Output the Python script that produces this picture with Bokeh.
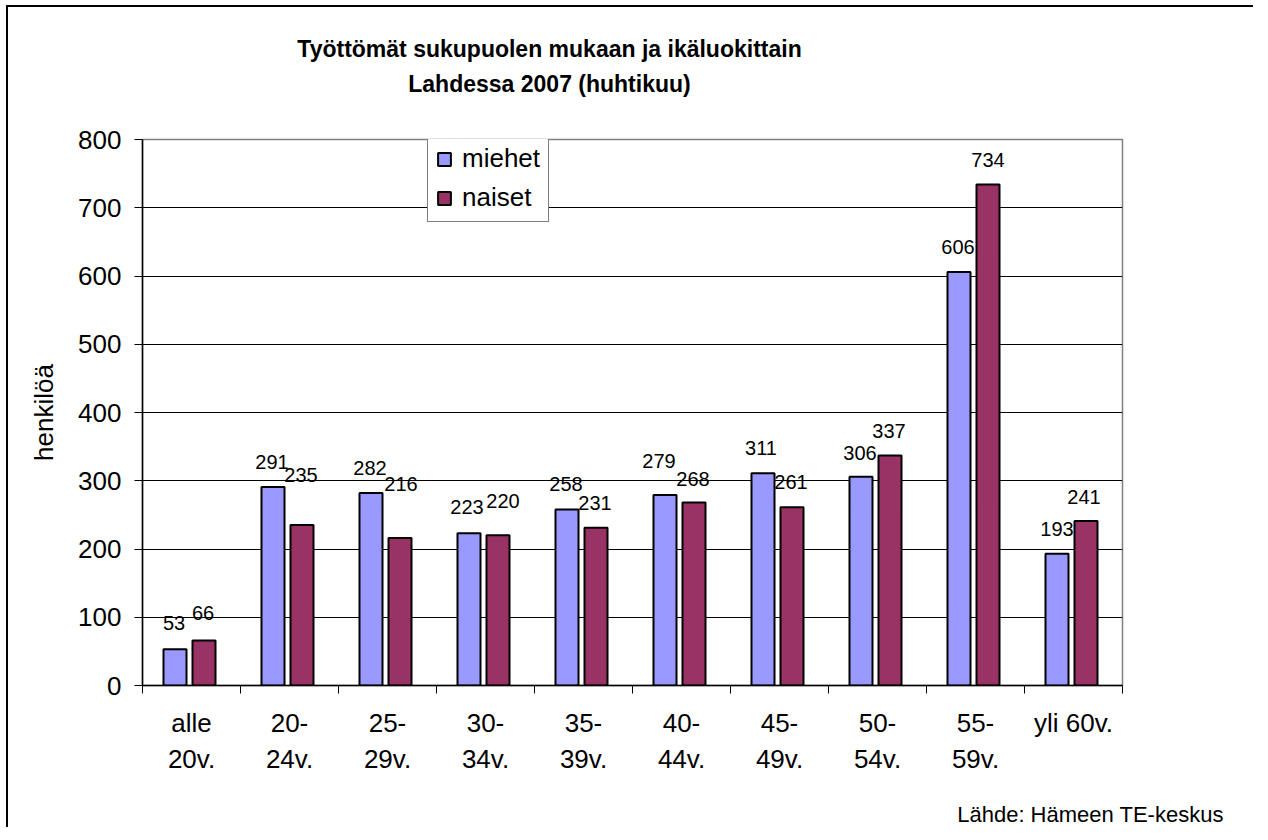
from bokeh.plotting import figure
from bokeh.models import (ColumnDataSource, Range1d, LabelSet, Legend, LegendItem,
                          FixedTicker, CustomJSTickFormatter, LinearAxis)
from bokeh.core.properties import value
from bokeh.embed import file_html
from bokeh.resources import INLINE

# ---------------- data ----------------
categories = ["alle\n20v.", "20-\n24v.", "25-\n29v.", "30-\n34v.", "35-\n39v.",
              "40-\n44v.", "45-\n49v.", "50-\n54v.", "55-\n59v.", "yli 60v."]
miehet = [53, 291, 282, 223, 258, 279, 311, 306, 606, 193]
naiset = [66, 235, 216, 220, 231, 268, 261, 337, 734, 241]
y_ticks = [0, 100, 200, 300, 400, 500, 600, 700, 800]
series_names = ["miehet", "naiset"]
title_lines = ["Työttömät sukupuolen mukaan ja ikäluokittain", "Lahdessa 2007 (huhtikuu)"]
y_label = "henkilöä"
source_text = "Lähde: Hämeen TE-keskus"

# ---------------- style ----------------
FONT = "Liberation Sans"
C_MIEHET = "#9999FF"
C_NAISET = "#993366"
# value-label placement (screen px above bar top / horizontal nudge)
miehet_label_dy = [26, 25, 25, 26, 25, 34, 25, 24, 25, 25]
naiset_label_dy = [27, 50, 54, 34, 25, 24, 25, 24, 25, 24]
miehet_label_dx = [-1, -1, -1, -2, -1, -6, -2, -1, -1, 0]
naiset_label_dx = [-1, -1, 1, 5, -1, -1, -1, -1, 0, -2]

n = len(categories)
PX_X = 98.0          # px per category
bar_w = 23.0 / PX_X
off_m = -16.5 / PX_X
off_n = 12.5 / PX_X
TITLE_X = (549 - 142) / PX_X     # horizontal centre of the title (data units)
SOURCE_X = (1090 - 142) / PX_X   # horizontal centre of the source note

p = figure(width=1250, height=825,
           x_range=Range1d(0, n), y_range=Range1d(0, 800),
           output_backend="svg", toolbar_location=None,
           min_border_left=134, min_border_right=136,
           min_border_top=132, min_border_bottom=147)
p.styles = {"border-left": "2px solid #000000", "border-top": "2px solid #000000",
            "margin-left": "6px", "margin-top": "5px",
            "clip-path": "inset(0px 3px 3px 0px)"}
p.background_fill_color = "white"
p.border_fill_color = "white"
p.outline_line_color = "#808080"
p.outline_line_width = 1.5

p.xgrid.visible = False
p.ygrid.ticker = y_ticks
p.ygrid.grid_line_color = "#000000"
p.ygrid.grid_line_width = 1

p.yaxis.ticker = y_ticks
p.yaxis.major_tick_out = 8
p.yaxis.major_tick_in = 0
p.yaxis.minor_tick_line_color = None
p.yaxis.axis_line_color = "#000000"
p.yaxis.axis_line_width = 1.5
p.yaxis.major_tick_line_color = "#000000"
p.yaxis.major_label_text_font = FONT
p.yaxis.major_label_text_font_size = "26px"
p.yaxis.major_label_text_color = "#000000"
p.yaxis.major_label_standoff = 13
p.yaxis.axis_label = y_label
p.yaxis.axis_label_text_font = FONT
p.yaxis.axis_label_text_font_size = "26px"
p.yaxis.axis_label_text_font_style = "normal"
p.yaxis.axis_label_text_color = "#000000"
p.yaxis.axis_label_standoff = 16

# x axis: labels at category centres, tick marks at category boundaries
p.xaxis.ticker = FixedTicker(ticks=[i + 0.5 for i in range(n)],
                             minor_ticks=list(range(n + 1)))
p.xaxis.formatter = CustomJSTickFormatter(args=dict(labels=categories),
                                          code="return labels[Math.floor(tick)] || ''")
p.xaxis.major_tick_line_color = None
p.xaxis.major_tick_out = 0
p.xaxis.major_tick_in = 0
p.xaxis.minor_tick_line_color = "#000000"
p.xaxis.minor_tick_out = 8
p.xaxis.minor_tick_in = 0
p.xaxis.axis_line_color = "#000000"
p.xaxis.axis_line_width = 1.5
p.xaxis.major_label_text_font = FONT
p.xaxis.major_label_text_font_size = "26px"
p.xaxis.major_label_text_color = "#000000"
p.xaxis.major_label_standoff = 14
p.xaxis.major_label_text_line_height = 1.22

idx = list(range(n))
src = ColumnDataSource(dict(
    xm=[i + 0.5 + off_m for i in idx],
    xn=[i + 0.5 + off_n for i in idx],
    miehet=miehet, naiset=naiset,
    tm=[str(v) for v in miehet], tn=[str(v) for v in naiset],
    dym=miehet_label_dy, dyn=naiset_label_dy,
    dxm=miehet_label_dx, dxn=naiset_label_dx,
))

r_m = p.vbar(x="xm", top="miehet", bottom=0, width=bar_w, source=src,
             fill_color=C_MIEHET, line_color="#000000", line_width=2)
r_n = p.vbar(x="xn", top="naiset", bottom=0, width=bar_w, source=src,
             fill_color=C_NAISET, line_color="#000000", line_width=2)

for xcol, ycol, tcol, dx, dy in (("xm", "miehet", "tm", "dxm", "dym"),
                                 ("xn", "naiset", "tn", "dxn", "dyn")):
    p.add_layout(LabelSet(x=xcol, y=ycol, text=tcol, x_offset=dx, y_offset=dy,
                          source=src, text_align="center", text_baseline="middle",
                          text_font=value(FONT), text_font_size=value("20px"),
                          text_color="#000000"))

# legend
legend = Legend(items=[LegendItem(label=series_names[0], renderers=[r_m]),
                       LegendItem(label=series_names[1], renderers=[r_n])],
                location=(285, 463), orientation="vertical",
                border_line_color="#000000", border_line_width=1,
                background_fill_color="white", background_fill_alpha=1,
                padding=8, spacing=8, margin=0,
                label_height=30, glyph_height=16, glyph_width=16, label_standoff=10,
                label_text_font=FONT, label_text_font_size="26px",
                label_text_color="#000000")
p.add_layout(legend)


def text_axis(x, text, size, style, standoff, line_height=1.2):
    """A line-less axis carrying a single (multi-line) text label."""
    return LinearAxis(ticker=FixedTicker(ticks=[x]),
                      formatter=CustomJSTickFormatter(args=dict(t=text), code="return t"),
                      axis_line_color=None, major_tick_line_color=None,
                      minor_tick_line_color=None, major_tick_out=0, major_tick_in=0,
                      minor_tick_out=0, minor_tick_in=0,
                      major_label_standoff=standoff,
                      major_label_text_font=FONT, major_label_text_font_size=size,
                      major_label_text_font_style=style,
                      major_label_text_color="#000000",
                      major_label_text_line_height=line_height)


# chart title (two centred lines) above the plot area
p.add_layout(text_axis(TITLE_X, "\n".join(title_lines), "23px", "bold", 43, 1.33), "above")
# source note under the category labels
p.add_layout(text_axis(SOURCE_X, source_text, "22px", "normal", 24), "below")

open("out.html", "w").write(file_html(p, INLINE))
